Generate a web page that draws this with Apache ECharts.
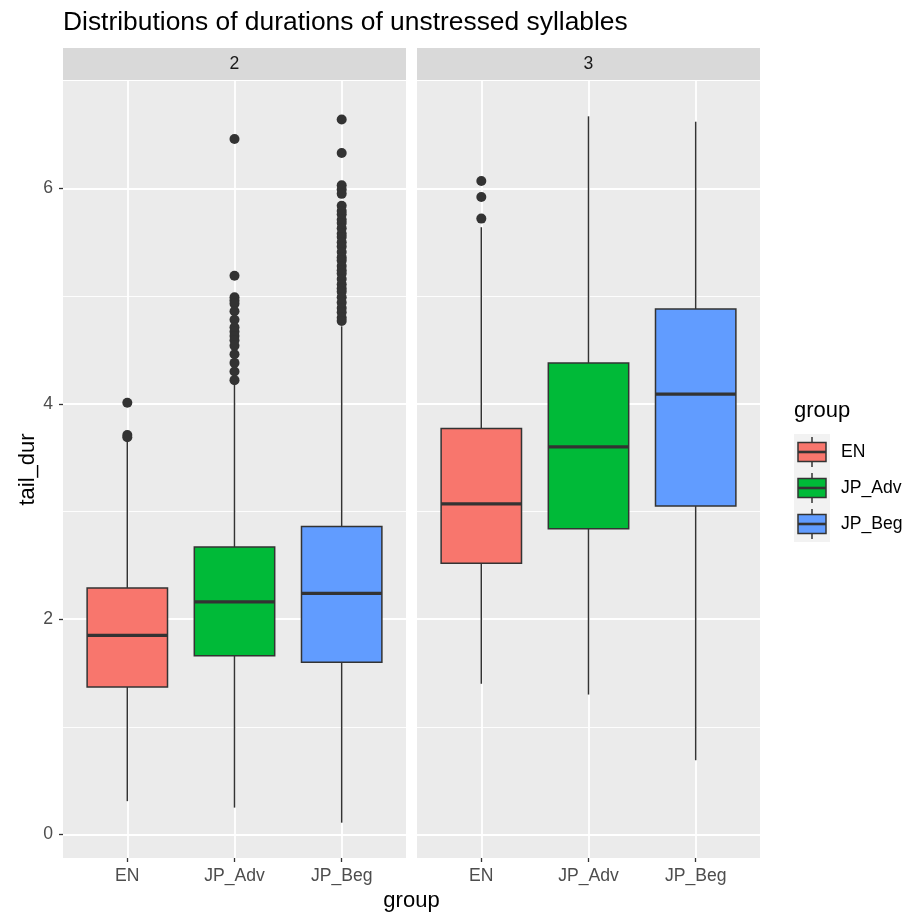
<!DOCTYPE html>
<html>
<head>
<meta charset="utf-8">
<script src="https://cdn.jsdelivr.net/npm/echarts@6/dist/echarts.min.js"></script>
<style>
  html, body { margin: 0; padding: 0; background: #ffffff; }
  #chart { width: 906px; height: 913px; }
</style>
</head>
<body>
<div id="chart"></div>
<script>
// Groups (x categories and fill legend) and facet panels
const groups = ['EN', 'JP_Adv', 'JP_Beg'];
const facets = ['2', '3'];
const groupColors = ['#F8766D', '#00BA38', '#619CFF'];
const yTicks = [0, 2, 4, 6];
const yMinorTicks = [1, 3, 5];

// Box summaries per group: [lower whisker, Q1, median, Q3, upper whisker]
const facet2Stats = [
  [0.31, 1.37, 1.85, 2.29, 3.66],
  [0.25, 1.66, 2.16, 2.67, 4.19],
  [0.11, 1.60, 2.24, 2.86, 4.72]
];
const facet3Stats = [
  [1.40, 2.52, 3.07, 3.77, 5.64],
  [1.30, 2.84, 3.60, 4.38, 6.67],
  [0.69, 3.05, 4.09, 4.88, 6.62]
];

// Outlying durations beyond the whiskers
const facet2OutEN = [4.01, 3.71, 3.69];
const facet2OutJPAdv = [6.46, 5.19, 4.99, 4.96, 4.93, 4.86, 4.78, 4.71, 4.67, 4.63, 4.59, 4.54, 4.46, 4.38, 4.30, 4.22];
const facet2OutJPBeg = [6.64, 6.33, 6.03, 5.99, 5.95, 5.84, 5.79, 5.76, 5.71, 5.68, 5.63, 5.58, 5.55, 5.50,
  5.46, 5.41, 5.36, 5.33, 5.28, 5.24, 5.21, 5.16, 5.11, 5.07, 5.04, 4.99, 4.94, 4.89, 4.85, 4.80, 4.77];
const facet3OutEN = [6.07, 5.92, 5.72];
const facet3OutJPAdv = [];
const facet3OutJPBeg = [];

const FONT = '"Liberation Sans", Arial, Helvetica, sans-serif';
const TICK_FS = 17.6, TITLE_FS = 22, PLOT_TITLE_FS = 26.4;

// y range: data range expanded by 5% on each side
const allY = [].concat(...facet2Stats, ...facet3Stats, facet2OutEN, facet2OutJPAdv, facet2OutJPBeg,
  facet3OutEN, facet3OutJPAdv, facet3OutJPBeg);
const yLo = Math.min(...allY), yHi = Math.max(...allY);
const yPad = (yHi - yLo) * 0.05;
const Y_MIN = yLo - yPad, Y_MAX = yHi + yPad;

const panels = [
  { label: facets[0], stats: facet2Stats, outs: [facet2OutEN, facet2OutJPAdv, facet2OutJPBeg], left: 63 },
  { label: facets[1], stats: facet3Stats, outs: [facet3OutEN, facet3OutJPAdv, facet3OutJPBeg], left: 417 }
];
const PANEL_W = 343, PANEL_TOP = 81, PANEL_BOTTOM = 55, STRIP_H = 32;

function renderBox(params, api) {
  const x = api.value(0);
  const lo = api.coord([x, api.value(1)]);
  const q1 = api.coord([x, api.value(2)]);
  const md = api.coord([x, api.value(3)]);
  const q3 = api.coord([x, api.value(4)]);
  const hi = api.coord([x, api.value(5)]);
  const half = api.size([0.75, 0])[0] / 2;
  const ink = '#333333';
  return {
    type: 'group',
    children: [
      { type: 'line', shape: { x1: lo[0], y1: lo[1], x2: q1[0], y2: q1[1] }, style: { stroke: ink, lineWidth: 1.5 } },
      { type: 'line', shape: { x1: q3[0], y1: q3[1], x2: hi[0], y2: hi[1] }, style: { stroke: ink, lineWidth: 1.5 } },
      { type: 'rect', shape: { x: q3[0] - half, y: q3[1], width: half * 2, height: q1[1] - q3[1] },
        style: { fill: groupColors[params.dataIndex], stroke: ink, lineWidth: 1.5 } },
      { type: 'line', shape: { x1: md[0] - half, y1: md[1], x2: md[0] + half, y2: md[1] }, style: { stroke: ink, lineWidth: 3.2 } }
    ]
  };
}

const grids = [], xAxes = [], yAxes = [], series = [], graphics = [];
panels.forEach((p, i) => {
  grids.push({ left: p.left, width: PANEL_W, top: PANEL_TOP, bottom: PANEL_BOTTOM, show: true,
    backgroundColor: '#EBEBEB', borderWidth: 0 });
  xAxes.push({
    type: 'value', gridIndex: i, min: 0.4, max: 3.6, position: 'bottom',
    axisLine: { show: false, onZero: false },
    axisTick: { show: true, customValues: [1, 2, 3], length: 4, lineStyle: { color: '#333333', width: 1.3 } },
    axisLabel: { show: true, customValues: [1, 2, 3], formatter: v => groups[Math.round(v) - 1],
      color: '#4D4D4D', fontSize: TICK_FS, fontFamily: FONT, margin: 9 },
    splitLine: { show: true, lineStyle: { color: '#FFFFFF', width: 1.8 } }
  });
  // major y grid
  yAxes.push({
    type: 'value', gridIndex: i, min: Y_MIN, max: Y_MAX,
    axisLine: { show: false, onZero: false },
    axisTick: { show: i === 0, customValues: yTicks, length: 4, lineStyle: { color: '#333333', width: 1.3 } },
    axisLabel: { show: i === 0, customValues: yTicks, color: '#4D4D4D', fontSize: TICK_FS, fontFamily: FONT, margin: 10 },
    splitLine: { show: true, lineStyle: { color: '#FFFFFF', width: 1.8 } },
    name: i === 0 ? 'tail_dur' : '', nameLocation: 'middle', nameRotate: 90, nameGap: 24,
    nameTextStyle: { color: '#000000', fontSize: TITLE_FS, fontFamily: FONT }
  });
  // minor y grid
  yAxes.push({
    type: 'value', gridIndex: i, min: Y_MIN, max: Y_MAX,
    axisLine: { show: false, onZero: false },
    axisTick: { show: false, customValues: yMinorTicks },
    axisLabel: { show: false, customValues: yMinorTicks },
    splitLine: { show: true, lineStyle: { color: '#FFFFFF', width: 0.9 } }
  });
  series.push({
    type: 'custom', xAxisIndex: i, yAxisIndex: i * 2, renderItem: renderBox, z: 3,
    encode: { x: 0, y: [1, 2, 3, 4, 5] },
    data: p.stats.map((s, k) => [k + 1].concat(s))
  });
  const pts = [];
  p.outs.forEach((arr, k) => arr.forEach(v => pts.push([k + 1, v])));
  series.push({
    type: 'scatter', xAxisIndex: i, yAxisIndex: i * 2, z: 4, symbol: 'circle', symbolSize: 10,
    itemStyle: { color: '#333333', opacity: 1 }, data: pts
  });
  // facet strip
  graphics.push({ type: 'rect', left: p.left, top: PANEL_TOP - STRIP_H - 1, shape: { width: PANEL_W, height: STRIP_H },
    style: { fill: '#D9D9D9' } });
  graphics.push({ type: 'text', x: p.left + PANEL_W / 2, y: PANEL_TOP - 1 - STRIP_H / 2,
    style: { text: p.label, fill: '#1A1A1A', font: TICK_FS + 'px ' + FONT, align: 'center', verticalAlign: 'middle' } });
});

// plot title and x-axis title
graphics.push({ type: 'text', x: 63, y: 23,
  style: { text: 'Distributions of durations of unstressed syllables', fill: '#000000',
    font: PLOT_TITLE_FS + 'px ' + FONT, align: 'left', verticalAlign: 'middle' } });
graphics.push({ type: 'text', x: (63 + 417 + PANEL_W) / 2, y: 901,
  style: { text: 'group', fill: '#000000', font: TITLE_FS + 'px ' + FONT, align: 'center', verticalAlign: 'middle' } });

// legend
const LG_X = 794, LG_TOP = 434, KEY = 36;
graphics.push({ type: 'text', x: LG_X, y: 411,
  style: { text: 'group', fill: '#000000', font: TITLE_FS + 'px ' + FONT, align: 'left', verticalAlign: 'middle' } });
groups.forEach((g, k) => {
  const cy = LG_TOP + KEY * k + KEY / 2;
  const cx = LG_X + KEY / 2;
  graphics.push({ type: 'rect', shape: { x: LG_X, y: LG_TOP + KEY * k, width: KEY, height: KEY },
    style: { fill: '#F2F2F2' } });
  graphics.push({ type: 'line', shape: { x1: cx, y1: cy - 15, x2: cx, y2: cy + 15 },
    style: { stroke: '#333333', lineWidth: 1.5 } });
  graphics.push({ type: 'rect', shape: { x: LG_X + 4, y: cy - 9.5, width: KEY - 8, height: 19 },
    style: { fill: groupColors[k], stroke: '#333333', lineWidth: 1.5 } });
  graphics.push({ type: 'line', shape: { x1: LG_X + 4, y1: cy, x2: LG_X + KEY - 4, y2: cy },
    style: { stroke: '#333333', lineWidth: 2.6 } });
  graphics.push({ type: 'text', x: LG_X + KEY + 11, y: cy,
    style: { text: g, fill: '#000000', font: TICK_FS + 'px ' + FONT, align: 'left', verticalAlign: 'middle' } });
});

const chart = echarts.init(document.getElementById('chart'), null, { renderer: 'canvas' });
chart.setOption({
  animation: false,
  backgroundColor: '#FFFFFF',
  grid: grids,
  xAxis: xAxes,
  yAxis: yAxes,
  series: series,
  graphic: graphics
});
</script>
</body>
</html>
